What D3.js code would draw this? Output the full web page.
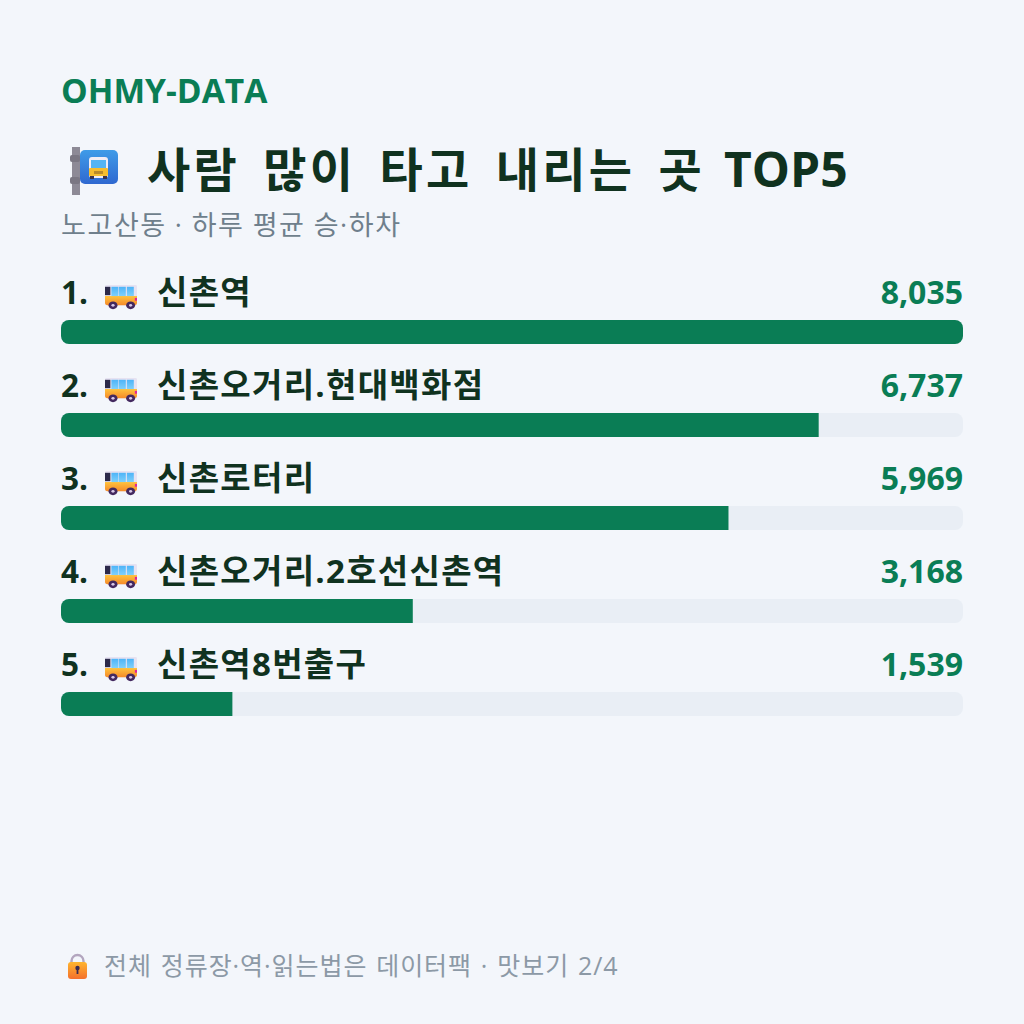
<!DOCTYPE html>
<html lang="ko">
<head>
<meta charset="utf-8">
<script src="https://cdn.jsdelivr.net/npm/d3@7/dist/d3.min.js"></script>
<style>
html,body{margin:0;padding:0;background:#f3f6fb;}
svg{display:block;}
text{font-family:"Open Sans","Noto Sans CJK KR",sans-serif;}
</style>
</head>
<body>
<svg id="chart" width="1024" height="1024"></svg>
<script>
const brand = "OHMY-DATA";
const titleKo = "사람 많이 타고 내리는 곳 ";
const titleEn = "TOP5";
const subtitle = "노고산동 · 하루 평균 승·하차";
const footer = "전체 정류장·역·읽는법은 데이터팩 · 맛보기 2/4";
const stops = ["신촌역", "신촌오거리.현대백화점", "신촌로터리", "신촌오거리.2호선신촌역", "신촌역8번출구"];
const riders = [8035, 6737, 5969, 3168, 1539];

const GREEN = "#0a7d55", DARK = "#10321f", GREY = "#6f7f8c", TRACK = "#e9eef5";
const svg = d3.select("#chart");
const left = 61, right = 963, rowTop = 320, rowStep = 93, barH = 24;

// Bar lengths follow the share of the busiest stop, rounded to a whole percent.
const maxRiders = d3.max(riders);
const share = v => Math.round(v / maxRiders * 100);
const x = d3.scaleLinear().domain([0, 100]).range([0, right - left]);
const y = d3.scaleOrdinal().domain(stops).range(stops.map((_, i) => rowTop + i * rowStep));
const fmt = d3.format(",");

const defs = svg.append("defs");
const grad = (id, a, b) => {
  const g = defs.append("linearGradient").attr("id", id).attr("x1", 0).attr("y1", 0).attr("x2", 0).attr("y2", 1);
  g.append("stop").attr("offset", 0).attr("stop-color", a);
  g.append("stop").attr("offset", 1).attr("stop-color", b);
};
grad("busBody", "#ffc23d", "#f58a2a");
grad("busGlass", "#4db4f8", "#7fd0fb");
grad("signBlue", "#3f9be8", "#2f68d0");
grad("lockBody", "#ffb52e", "#f4702c");

// Fills are clipped to the rounded track, so only the track's corners show.
defs.append("clipPath").attr("id", "trackClip")
  .append("rect").attr("x", left).attr("width", x(100)).attr("height", barH).attr("rx", 8);

// Side-view bus pictogram
const bus = defs.append("symbol").attr("id", "bus").attr("viewBox", "2 0 30 28").attr("preserveAspectRatio", "none");
bus.append("path").attr("d", "M2 2.5Q2 1 3.5 1H30.5Q32 1 32 2.5V21Q32 23 30 23H4Q2 23 2 21Z").attr("fill", "#e6e2f2");
bus.append("path").attr("d", "M2 13H32V20Q32 23 29.5 23H4.5Q2 23 2 20Z").attr("fill", "url(#busBody)");
bus.append("rect").attr("x", 2).attr("y", 3).attr("width", 5).attr("height", 9).attr("fill", "#2c2a4a");
[8, 15, 22.5].forEach(wx => bus.append("rect").attr("x", wx).attr("y", 3).attr("width", 6.5).attr("height", 10).attr("fill", "url(#busGlass)"));
bus.append("rect").attr("x", 30).attr("y", 15).attr("width", 2).attr("height", 3).attr("fill", "#e0249a");
[9.5, 26].forEach(cx => {
  bus.append("circle").attr("cx", cx).attr("cy", 23).attr("r", 4.2).attr("fill", "#43295f");
  bus.append("circle").attr("cx", cx).attr("cy", 23).attr("r", 1.5).attr("fill", "#d9c9e8");
});

// Header block
svg.append("text").attr("x", 61).attr("y", 103).attr("font-size", 33.6).attr("font-weight", 700).attr("fill", GREEN).text(brand);

// Bus-stop sign next to the title
const sign = svg.append("g");
sign.append("rect").attr("x", 72).attr("y", 147).attr("width", 8).attr("height", 48).attr("fill", "#8d8a96");
[155, 177].forEach(py => sign.append("rect").attr("x", 70).attr("y", py).attr("width", 10).attr("height", 7).attr("rx", 2).attr("fill", "#7a7783"));
sign.append("rect").attr("x", 80).attr("y", 150).attr("width", 38).attr("height", 34).attr("rx", 5).attr("fill", "url(#signBlue)");
sign.append("rect").attr("x", 89).attr("y", 157).attr("width", 19).attr("height", 21).attr("rx", 3).attr("fill", "#f1ecf4");
sign.append("rect").attr("x", 91).attr("y", 160).attr("width", 15).attr("height", 8).attr("fill", "#55b4f2");
sign.append("rect").attr("x", 89).attr("y", 168).attr("width", 19).attr("height", 8).attr("rx", 1).attr("fill", "#f6bd2f");
sign.append("rect").attr("x", 94).attr("y", 171).attr("width", 9).attr("height", 3).attr("fill", "#b98a2a");
[90, 103].forEach(px => sign.append("rect").attr("x", px).attr("y", 176).attr("width", 4).attr("height", 3).attr("fill", "#3a3350"));

const titleText = svg.append("text").attr("x", 147).attr("y", 187).attr("fill", DARK).attr("font-weight", 700);
titleText.append("tspan").attr("font-size", 47).attr("letter-spacing", 3.2).attr("word-spacing", 8).style("white-space", "pre").text(titleKo);
titleText.append("tspan").attr("x", 724).attr("font-size", 48).text(titleEn);
svg.append("text").attr("x", 61).attr("y", 235).attr("font-size", 27).attr("letter-spacing", 1.6).attr("word-spacing", -0.5).attr("fill", GREY).text(subtitle);

// One row per stop: rank, icon, name, value, track and bar
const rows = svg.append("g").selectAll("g").data(stops.map((name, i) => ({name, value: riders[i], rank: i + 1})))
  .join("g").attr("transform", d => `translate(0,${y(d.name)})`);

rows.append("rect").attr("x", left).attr("width", x(100)).attr("height", barH).attr("rx", 8).attr("fill", TRACK);
rows.append("rect").attr("x", left).attr("width", d => x(share(d.value))).attr("height", barH).attr("clip-path", "url(#trackClip)").attr("fill", GREEN);
rows.append("text").attr("x", left).attr("y", -16).attr("font-size", 31.5).attr("font-weight", 700).attr("fill", DARK).text(d => `${d.rank}.`);
rows.append("use").attr("href", "#bus").attr("x", 105).attr("y", -36).attr("width", 32).attr("height", 26);
rows.append("text").attr("x", 157).attr("y", -16).attr("font-size", 33).attr("font-weight", 700).attr("letter-spacing", 1.3).attr("fill", DARK).text(d => d.name);
rows.append("text").attr("x", right).attr("y", -16).attr("text-anchor", "end").attr("font-size", 32).attr("font-weight", 700).attr("fill", GREEN).text(d => fmt(d.value));

// Footer with padlock
const lock = svg.append("g");
lock.append("path").attr("d", "M71.5 963V961A6 6 0 0 1 83.5 961V963").attr("fill", "none").attr("stroke", "#b3a6bf").attr("stroke-width", 2.4);
lock.append("rect").attr("x", 68).attr("y", 962).attr("width", 19).attr("height", 17).attr("rx", 3).attr("fill", "url(#lockBody)");
lock.append("circle").attr("cx", 77.5).attr("cy", 968).attr("r", 2.2).attr("fill", "#3a2a50");
lock.append("rect").attr("x", 76.6).attr("y", 968).attr("width", 1.8).attr("height", 6).attr("fill", "#3a2a50");
svg.append("text").attr("x", 104).attr("y", 975).attr("font-size", 25).attr("letter-spacing", 0.95).attr("word-spacing", 1.4).attr("fill", "#8c99a6").text(footer);
</script>
</body>
</html>
